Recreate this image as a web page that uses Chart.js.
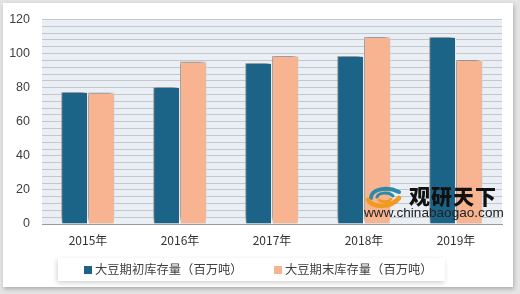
<!DOCTYPE html>
<html><head><meta charset="utf-8">
<script src="https://cdn.jsdelivr.net/npm/chart.js@4/dist/chart.umd.min.js"></script>
<style>
html,body{margin:0;padding:0;}
body{width:520px;height:294px;background:#e4e4e4;position:relative;overflow:hidden;}
#panel{position:absolute;left:3px;top:3px;width:510px;height:284px;background:#fff;box-shadow:1px 2px 4px rgba(0,0,0,0.25);}
#wrap{position:absolute;left:0;top:0;width:520px;height:294px;}
#legend{position:absolute;left:58px;top:258px;width:387px;height:23px;background:#fff;box-shadow:-1px 2px 5px rgba(0,0,0,0.18);font-family:"Noto Sans CJK SC";font-size:12.3px;color:#404040;}
#legend .it{position:absolute;top:3px;line-height:17px;white-space:nowrap;}
#legend .sw{display:inline-block;width:8px;height:8px;margin-right:3px;vertical-align:0px;}
#wm{position:absolute;left:363px;top:184px;width:145px;height:40px;pointer-events:none;}
#wm .cn{position:absolute;left:46px;top:-1px;font-family:"Noto Sans CJK SC";font-weight:900;font-size:21px;letter-spacing:1px;color:#111;line-height:24px;}
#wm .en{position:absolute;left:1px;top:21px;font-family:"Liberation Sans",Arial;font-size:13.6px;color:#222;line-height:16px;}
#wm svg{position:absolute;left:2px;top:2px;}
</style></head>
<body>
<div id="panel"></div>
<div id="wrap"><canvas id="c" width="520" height="294"></canvas></div>
<div id="legend"></div>
<div id="wm">
<svg width="40" height="22" viewBox="0 0 40 22">
<path d="M6 12 C6 3 22 0 34 6" stroke="#2a8aa8" stroke-width="4" fill="none" stroke-linecap="round"/>
<path d="M12 11 C14 6 24 6 28 10" stroke="#2a8aa8" stroke-width="3" fill="none" stroke-linecap="round"/>
<path d="M3 14 C8 22 26 22 34 12" stroke="#f29a1f" stroke-width="4.5" fill="none" stroke-linecap="round"/>
<path d="M14 14 C18 17 24 16 26 13" stroke="#f29a1f" stroke-width="3" fill="none" stroke-linecap="round"/>
</svg>
<div class="cn">观研天下</div>
<div class="en">www.chinabaogao.com</div>
</div>
<script>
const categories = ['2015年','2016年','2017年','2018年','2019年'];
const beginStocks = [77.5, 80.4, 94.5, 98.6, 109.8];
const endStocks = [77.0, 95.2, 98.6, 109.8, 96.2];
const seriesNames = ['大豆期初库存量（百万吨）','大豆期末库存量（百万吨）'];
const seriesColors = ['#1b6487','#f8b490'];
const yTickLabels = [0,20,40,60,80,100,120];

const plotBg = {
  id:'plotBg',
  beforeDraw(chart){
    const {ctx, chartArea:a} = chart;
    ctx.save();
    ctx.fillStyle = '#e9eff5';
    ctx.fillRect(a.left, a.top, a.right-a.left, a.bottom-a.top);
    ctx.restore();
  },
  beforeDatasetsDraw(chart){
    const ctx = chart.ctx;
    ctx.save();
    ctx.shadowColor='rgba(40,40,40,0.6)';
    ctx.shadowBlur=5; ctx.shadowOffsetX=-2; ctx.shadowOffsetY=-3;
  },
  afterDatasetsDraw(chart){ chart.ctx.restore(); }
};

const chart = new Chart(document.getElementById('c'), {
  type:'bar',
  data:{
    labels: categories,
    datasets:[
      {label:seriesNames[0], data:beginStocks, backgroundColor:seriesColors[0], borderColor:'#ffffff', borderWidth:1},
      {label:seriesNames[1], data:endStocks, backgroundColor:seriesColors[1], borderColor:'#ffffff', borderWidth:1}
    ]
  },
  options:{
    responsive:false, animation:false,
    layout:{padding:{top:18,right:18,left:0,bottom:40}},
    datasets:{bar:{categoryPercentage:0.58, barPercentage:1.0}},
    plugins:{ tooltip:{enabled:false}, legend:{display:false} },
    scales:{
      x:{
        grid:{display:false, drawTicks:false},
        border:{display:true, color:'#9a9a9a', width:1},
        ticks:{font:{family:'"Noto Sans CJK SC"', size:12}, color:'#333', padding:9},
        afterFit(s){ s.height = 30; }
      },
      y:{
        min:0, max:120,
        grid:{color:(c)=> c.tick.value===0 ? 'rgba(0,0,0,0)' : '#c3c7cc', lineWidth:1, drawTicks:false},
        border:{display:false},
        ticks:{stepSize:4, autoSkip:false, padding:12,
          font:{family:'"Liberation Sans",Calibri,Arial', size:12.5}, color:'#404040',
          callback:(v)=> yTickLabels.includes(v) ? String(v) : ''},
        afterFit(s){ s.width = 42; }
      }
    }
  },
  plugins:[plotBg]
});

// legend built from the dataset definitions
const lg = document.getElementById('legend');
const lefts = [26, 216];
chart.data.datasets.forEach((d,i)=>{
  const it = document.createElement('div');
  it.className='it'; it.style.left = lefts[i]+'px';
  const sw = document.createElement('span'); sw.className='sw'; sw.style.background = d.backgroundColor;
  it.appendChild(sw); it.appendChild(document.createTextNode(d.label));
  lg.appendChild(it);
});
</script>
</body></html>
